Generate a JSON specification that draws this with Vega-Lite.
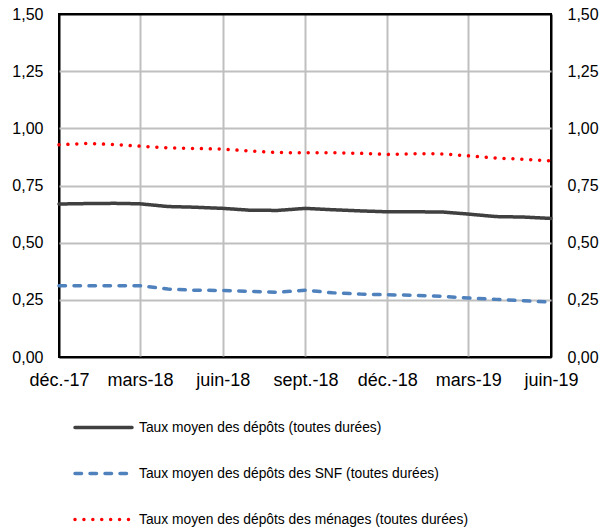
{
  "$schema": "https://vega.github.io/schema/vega-lite/v6.json",
  "width": 492,
  "height": 343,
  "autosize": {"type": "none"},
  "padding": {"left": 59, "top": 14, "right": 55, "bottom": 171},
  "background": "white",
  "config": {
    "font": "Liberation Sans",
    "view": {"stroke": "#000000", "strokeWidth": 2},
    "axis": {
      "domain": false,
      "ticks": false,
      "gridWidth": 2,
      "gridOpacity": 1,
      "labelColor": "#000000",
      "title": null
    }
  },
  "data": {
    "values": [
      {"mois": "2017-12-01", "serie": "Taux moyen des dépôts (toutes durées)", "taux": 0.669},
      {"mois": "2018-01-01", "serie": "Taux moyen des dépôts (toutes durées)", "taux": 0.671},
      {"mois": "2018-02-01", "serie": "Taux moyen des dépôts (toutes durées)", "taux": 0.672},
      {"mois": "2018-03-01", "serie": "Taux moyen des dépôts (toutes durées)", "taux": 0.670},
      {"mois": "2018-04-01", "serie": "Taux moyen des dépôts (toutes durées)", "taux": 0.658},
      {"mois": "2018-05-01", "serie": "Taux moyen des dépôts (toutes durées)", "taux": 0.655},
      {"mois": "2018-06-01", "serie": "Taux moyen des dépôts (toutes durées)", "taux": 0.650},
      {"mois": "2018-07-01", "serie": "Taux moyen des dépôts (toutes durées)", "taux": 0.642},
      {"mois": "2018-08-01", "serie": "Taux moyen des dépôts (toutes durées)", "taux": 0.641},
      {"mois": "2018-09-01", "serie": "Taux moyen des dépôts (toutes durées)", "taux": 0.650},
      {"mois": "2018-10-01", "serie": "Taux moyen des dépôts (toutes durées)", "taux": 0.644},
      {"mois": "2018-11-01", "serie": "Taux moyen des dépôts (toutes durées)", "taux": 0.639},
      {"mois": "2018-12-01", "serie": "Taux moyen des dépôts (toutes durées)", "taux": 0.635},
      {"mois": "2019-01-01", "serie": "Taux moyen des dépôts (toutes durées)", "taux": 0.635},
      {"mois": "2019-02-01", "serie": "Taux moyen des dépôts (toutes durées)", "taux": 0.634},
      {"mois": "2019-03-01", "serie": "Taux moyen des dépôts (toutes durées)", "taux": 0.625},
      {"mois": "2019-04-01", "serie": "Taux moyen des dépôts (toutes durées)", "taux": 0.614},
      {"mois": "2019-05-01", "serie": "Taux moyen des dépôts (toutes durées)", "taux": 0.612},
      {"mois": "2019-06-01", "serie": "Taux moyen des dépôts (toutes durées)", "taux": 0.606},
      {"mois": "2017-12-01", "serie": "Taux moyen des dépôts des SNF (toutes durées)", "taux": 0.312},
      {"mois": "2018-01-01", "serie": "Taux moyen des dépôts des SNF (toutes durées)", "taux": 0.311},
      {"mois": "2018-02-01", "serie": "Taux moyen des dépôts des SNF (toutes durées)", "taux": 0.312},
      {"mois": "2018-03-01", "serie": "Taux moyen des dépôts des SNF (toutes durées)", "taux": 0.312},
      {"mois": "2018-04-01", "serie": "Taux moyen des dépôts des SNF (toutes durées)", "taux": 0.297},
      {"mois": "2018-05-01", "serie": "Taux moyen des dépôts des SNF (toutes durées)", "taux": 0.292},
      {"mois": "2018-06-01", "serie": "Taux moyen des dépôts des SNF (toutes durées)", "taux": 0.291},
      {"mois": "2018-07-01", "serie": "Taux moyen des dépôts des SNF (toutes durées)", "taux": 0.287},
      {"mois": "2018-08-01", "serie": "Taux moyen des dépôts des SNF (toutes durées)", "taux": 0.283},
      {"mois": "2018-09-01", "serie": "Taux moyen des dépôts des SNF (toutes durées)", "taux": 0.292},
      {"mois": "2018-10-01", "serie": "Taux moyen des dépôts des SNF (toutes durées)", "taux": 0.281},
      {"mois": "2018-11-01", "serie": "Taux moyen des dépôts des SNF (toutes durées)", "taux": 0.275},
      {"mois": "2018-12-01", "serie": "Taux moyen des dépôts des SNF (toutes durées)", "taux": 0.272},
      {"mois": "2019-01-01", "serie": "Taux moyen des dépôts des SNF (toutes durées)", "taux": 0.270},
      {"mois": "2019-02-01", "serie": "Taux moyen des dépôts des SNF (toutes durées)", "taux": 0.265},
      {"mois": "2019-03-01", "serie": "Taux moyen des dépôts des SNF (toutes durées)", "taux": 0.258},
      {"mois": "2019-04-01", "serie": "Taux moyen des dépôts des SNF (toutes durées)", "taux": 0.252},
      {"mois": "2019-05-01", "serie": "Taux moyen des dépôts des SNF (toutes durées)", "taux": 0.246},
      {"mois": "2019-06-01", "serie": "Taux moyen des dépôts des SNF (toutes durées)", "taux": 0.240},
      {"mois": "2017-12-01", "serie": "Taux moyen des dépôts des ménages (toutes durées)", "taux": 0.928},
      {"mois": "2018-01-01", "serie": "Taux moyen des dépôts des ménages (toutes durées)", "taux": 0.934},
      {"mois": "2018-02-01", "serie": "Taux moyen des dépôts des ménages (toutes durées)", "taux": 0.929},
      {"mois": "2018-03-01", "serie": "Taux moyen des dépôts des ménages (toutes durées)", "taux": 0.922},
      {"mois": "2018-04-01", "serie": "Taux moyen des dépôts des ménages (toutes durées)", "taux": 0.915},
      {"mois": "2018-05-01", "serie": "Taux moyen des dépôts des ménages (toutes durées)", "taux": 0.912},
      {"mois": "2018-06-01", "serie": "Taux moyen des dépôts des ménages (toutes durées)", "taux": 0.909},
      {"mois": "2018-07-01", "serie": "Taux moyen des dépôts des ménages (toutes durées)", "taux": 0.901},
      {"mois": "2018-08-01", "serie": "Taux moyen des dépôts des ménages (toutes durées)", "taux": 0.894},
      {"mois": "2018-09-01", "serie": "Taux moyen des dépôts des ménages (toutes durées)", "taux": 0.893},
      {"mois": "2018-10-01", "serie": "Taux moyen des dépôts des ménages (toutes durées)", "taux": 0.893},
      {"mois": "2018-11-01", "serie": "Taux moyen des dépôts des ménages (toutes durées)", "taux": 0.891},
      {"mois": "2018-12-01", "serie": "Taux moyen des dépôts des ménages (toutes durées)", "taux": 0.886},
      {"mois": "2019-01-01", "serie": "Taux moyen des dépôts des ménages (toutes durées)", "taux": 0.889},
      {"mois": "2019-02-01", "serie": "Taux moyen des dépôts des ménages (toutes durées)", "taux": 0.888},
      {"mois": "2019-03-01", "serie": "Taux moyen des dépôts des ménages (toutes durées)", "taux": 0.880},
      {"mois": "2019-04-01", "serie": "Taux moyen des dépôts des ménages (toutes durées)", "taux": 0.870},
      {"mois": "2019-05-01", "serie": "Taux moyen des dépôts des ménages (toutes durées)", "taux": 0.865},
      {"mois": "2019-06-01", "serie": "Taux moyen des dépôts des ménages (toutes durées)", "taux": 0.858}
    ]
  },
  "layer": [
    {
      "mark": {"type": "line", "strokeWidth": 3.5, "strokeCap": "round", "strokeJoin": "round"},
      "encoding": {
        "x": {
          "field": "mois",
          "type": "temporal",
          "scale": {"type": "utc", "domain": [{"year": 2017, "month": 12, "date": 1, "utc": true}, {"year": 2019, "month": 6, "date": 1, "utc": true}], "nice": false},
          "axis": {
            "values": [
              {"year": 2017, "month": 12, "date": 1, "utc": true},
              {"year": 2018, "month": 3, "date": 1, "utc": true},
              {"year": 2018, "month": 6, "date": 1, "utc": true},
              {"year": 2018, "month": 9, "date": 1, "utc": true},
              {"year": 2018, "month": 12, "date": 1, "utc": true},
              {"year": 2019, "month": 3, "date": 1, "utc": true},
              {"year": 2019, "month": 6, "date": 1, "utc": true}
            ],
            "labelExpr": "['janv.','févr.','mars','avr.','mai','juin','juil.','août','sept.','oct.','nov.','déc.'][utcmonth(datum.value)] + '-' + utcFormat(datum.value, '%y')",
            "labelFontSize": 18,
            "labelPadding": 14,
            "labelFlush": false,
            "labelOverlap": false,
            "grid": true,
            "gridColor": {"condition": {"test": "datum.value <= utc(2017, 11, 15) || datum.value >= utc(2019, 4, 15)", "value": "#000000"}, "value": "#bfbfbf"}
          }
        },
        "y": {
          "field": "taux",
          "type": "quantitative",
          "scale": {"domain": [0, 1.5], "nice": false, "zero": true},
          "axis": {
            "orient": "left",
            "values": [0, 0.25, 0.5, 0.75, 1, 1.25, 1.5],
            "format": ".2f",
            "labelExpr": "replace(datum.label, '.', ',')",
            "labelFontSize": 16,
            "labelPadding": 16,
            "labelFlush": false,
            "grid": true,
            "gridColor": {"condition": {"test": "datum.value >= 1.5 || datum.value <= 0", "value": "#000000"}, "value": "#bfbfbf"}
          }
        },
        "color": {
          "field": "serie",
          "type": "nominal",
          "scale": {
            "domain": ["Taux moyen des dépôts (toutes durées)", "Taux moyen des dépôts des SNF (toutes durées)", "Taux moyen des dépôts des ménages (toutes durées)"],
            "range": ["#404040", "#4f81bd", "#ff0000"]
          },
          "legend": {
            "orient": "none",
            "legendX": 14,
            "legendY": 383,
            "direction": "vertical",
            "title": null,
            "padding": 0,
            "symbolType": "stroke",
            "symbolSize": 3249,
            "symbolStrokeWidth": 3.5,
            "labelFontSize": 13.8,
            "labelColor": "#000000",
            "labelOffset": 5,
            "labelLimit": 500,
            "rowPadding": 8,
            "encode": {"symbols": {"update": {"strokeCap": {"value": "round"}}}}
          }
        },
        "strokeDash": {
          "field": "serie",
          "type": "nominal",
          "scale": {
            "domain": ["Taux moyen des dépôts (toutes durées)", "Taux moyen des dépôts des SNF (toutes durées)", "Taux moyen des dépôts des ménages (toutes durées)"],
            "range": [[1, 0], [6.5, 8.5], [0.01, 8.9]]
          },
          "legend": null
        }
      }
    },
    {
      "mark": {"type": "line", "opacity": 0},
      "encoding": {
        "x": {"field": "mois", "type": "temporal", "scale": {"type": "utc"}},
        "y": {
          "field": "taux",
          "type": "quantitative",
          "scale": {"domain": [0, 1.5], "nice": false, "zero": true},
          "axis": {
            "orient": "right",
            "values": [0, 0.25, 0.5, 0.75, 1, 1.25, 1.5],
            "format": ".2f",
            "labelExpr": "replace(datum.label, '.', ',')",
            "labelFontSize": 16,
            "labelPadding": 16,
            "labelFlush": false,
            "grid": false
          }
        },
        "detail": {"field": "serie", "type": "nominal"}
      }
    }
  ],
  "resolve": {"scale": {"y": "independent"}}
}
